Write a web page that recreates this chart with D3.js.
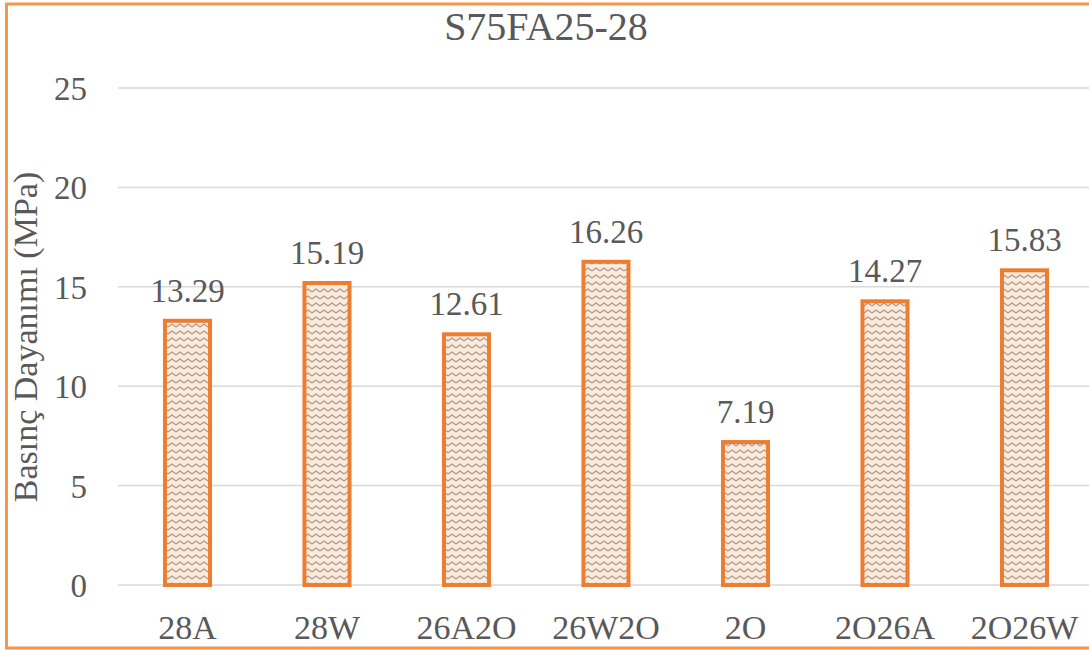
<!DOCTYPE html>
<html>
<head>
<meta charset="utf-8">
<script src="https://cdn.jsdelivr.net/npm/d3@7/dist/d3.min.js"></script>
</head>
<body style="margin:0">
<svg id="chart" width="1089" height="650" font-family="Liberation Serif"></svg>
<script>
// Compressive strength per curing regime
const categories = ["28A", "28W", "26A2O", "26W2O", "2O", "2O26A", "2O26W"];
const values = [13.29, 15.19, 12.61, 16.26, 7.19, 14.27, 15.83];
const yTicks = [0, 5, 10, 15, 20, 25];
const chartTitle = "S75FA25-28";
const yAxisTitle = "Basınç Dayanımı (MPa)";

const TEXT_COLOR = "#595959";

const svg = d3.select("#chart");
const W = 1089, H = 650;

function styleText(sel, size) {
  return sel
    .attr("font-family", "Liberation Serif")
    .style("font-family", '"Liberation Serif"')
    .style("font-size", size + "px")
    .style("fill", TEXT_COLOR);
}

// Zigzag hatch fill for the bars
const defs = svg.append("defs");
const pat = defs.append("pattern")
  .attr("id", "zigzag")
  .attr("patternUnits", "userSpaceOnUse")
  .attr("width", 8).attr("height", 7);
pat.append("rect").attr("width", 8).attr("height", 7).attr("fill", "#fcebdc");
pat.append("path")
  .attr("d", "M0,5 L4,2 L8,5")
  .attr("fill", "none")
  .attr("stroke", "#a8978a")
  .attr("stroke-width", 1.1);

// Outer frame
svg.append("rect")
  .attr("x", 6.5).attr("y", 4).attr("width", W + 20).attr("height", 644)
  .attr("fill", "#fff")
  .attr("stroke", "#f79646").attr("stroke-width", 3);

const x = d3.scaleBand()
  .domain(categories)
  .range([117.75, 1094.25])
  .paddingInner(0.677)
  .paddingOuter(0.3385);

const y = d3.scaleLinear().domain([0, 25]).range([585, 88]);

// Value axis labels
const yAxis = d3.axisLeft(y).tickValues(yTicks).tickSize(0).tickPadding(0);
const gy = svg.append("g").attr("transform", "translate(87,0)").call(yAxis);
gy.attr("font-family", null).attr("font-size", null);
gy.select(".domain").remove();
styleText(gy.selectAll("text").attr("x", 0).attr("dy", "0.35em"), 33);

// Horizontal gridlines
svg.append("g").selectAll("line")
  .data(yTicks)
  .join("line")
  .attr("x1", 118).attr("x2", W)
  .attr("y1", d => y(d)).attr("y2", d => y(d))
  .attr("stroke", "#d9d9d9").attr("stroke-width", 1.5);

// Bars
svg.append("g").selectAll("rect")
  .data(values)
  .join("rect")
  .attr("x", (d, i) => x(categories[i]))
  .attr("y", d => y(d))
  .attr("width", x.bandwidth())
  .attr("height", d => y(0) - y(d))
  .attr("fill", "url(#zigzag)")
  .attr("stroke", "#ed7d31")
  .attr("stroke-width", 4);

// Value labels
styleText(svg.append("g").selectAll("text")
  .data(values)
  .join("text")
  .attr("x", (d, i) => x(categories[i]) + x.bandwidth() / 2)
  .attr("y", d => y(d) - 19)
  .attr("text-anchor", "middle")
  .text(d => d.toFixed(2)), 33);

// Category axis
const xAxis = d3.axisBottom(x).tickSize(0).tickPadding(0);
const gx = svg.append("g").attr("transform", "translate(0,585)").call(xAxis);
gx.attr("font-family", null).attr("font-size", null);
gx.select(".domain").remove();
styleText(gx.selectAll("text").attr("y", 54).attr("dy", 0), 34);

// Title
styleText(svg.append("text")
  .attr("x", 546).attr("y", 40)
  .attr("text-anchor", "middle")
  .text(chartTitle), 40);

// Y axis title
styleText(svg.append("text")
  .attr("transform", "translate(37,337) rotate(-90)")
  .attr("text-anchor", "middle")
  .text(yAxisTitle), 34);
</script>
</body>
</html>
